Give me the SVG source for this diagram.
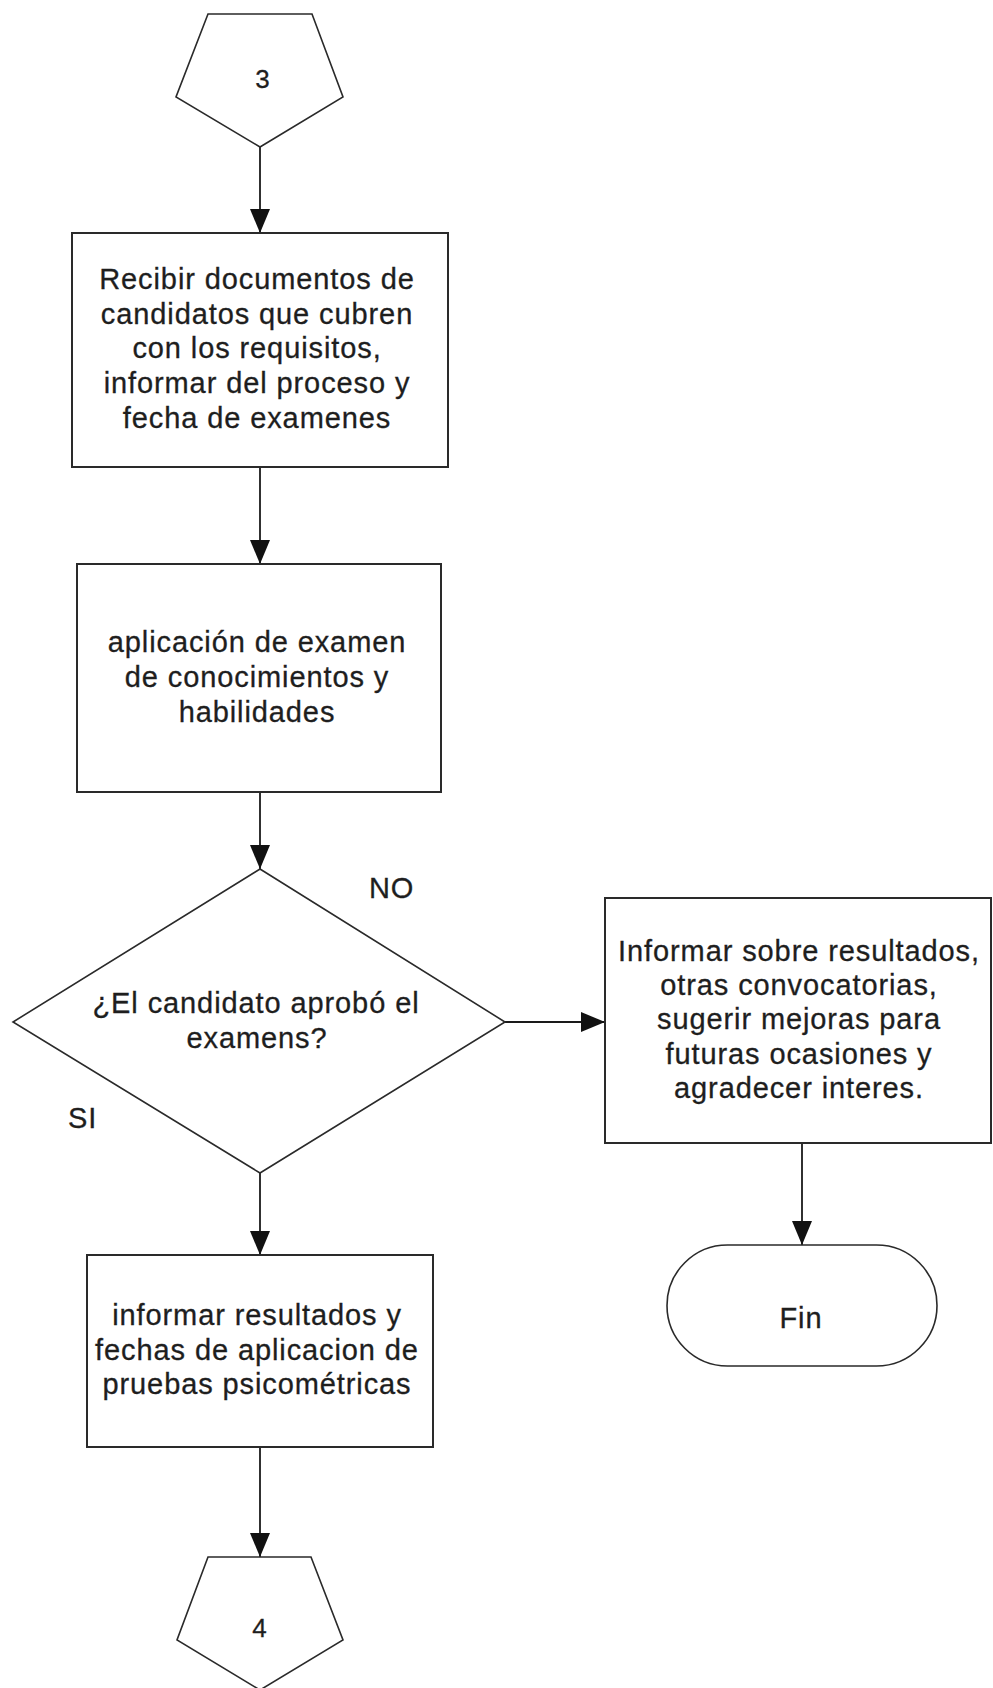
<svg xmlns="http://www.w3.org/2000/svg" width="993" height="1688" viewBox="0 0 993 1688">
  <style>
    .shape { fill: #ffffff; stroke: #2a2a2a; stroke-width: 2; }
    .thin { fill: #ffffff; stroke: #2a2a2a; stroke-width: 1.6; }
    .conn { fill: none; stroke: #1a1a1a; stroke-width: 1.8; }
    text { font-family: "Liberation Sans", Arial, sans-serif; font-size: 29px; fill: #1e1e1e; letter-spacing: 0.9px; stroke: #1e1e1e; stroke-width: 0.3px; }
    .c { text-anchor: middle; }
    .num { font-size: 26px; }
  </style>
  <defs>
    <marker id="arrow" markerUnits="userSpaceOnUse" markerWidth="24" markerHeight="20" refX="24" refY="10" orient="auto">
      <path d="M0,0 L24,10 L0,20 z" fill="#111111"/>
    </marker>
  </defs>
  <rect x="0" y="0" width="993" height="1688" fill="#ffffff"/>

  <g id="connectors">
    <line class="conn" x1="260" y1="147" x2="260" y2="233" marker-end="url(#arrow)"/>
    <line class="conn" x1="260" y1="467" x2="260" y2="564" marker-end="url(#arrow)"/>
    <line class="conn" x1="260" y1="792" x2="260" y2="869" marker-end="url(#arrow)"/>
    <line class="conn" x1="505" y1="1022" x2="605" y2="1022" marker-end="url(#arrow)"/>
    <line class="conn" x1="260" y1="1173" x2="260" y2="1255" marker-end="url(#arrow)"/>
    <line class="conn" x1="802" y1="1143" x2="802" y2="1245" marker-end="url(#arrow)"/>
    <line class="conn" x1="260" y1="1447" x2="260" y2="1557" marker-end="url(#arrow)"/>
  </g>

  <g id="conn3">
    <polygon class="thin" points="208,14 312,14 343,97 260,147 176,97"/>
    <text class="c num" x="263" y="88">3</text>
  </g>

  <g id="recibir">
    <rect class="shape" x="72" y="233" width="376" height="234"/>
    <text class="c" x="257" y="289">Recibir documentos de</text>
    <text class="c" x="257" y="324">candidatos que cubren</text>
    <text class="c" x="257" y="358">con los requisitos,</text>
    <text class="c" x="257" y="393">informar del proceso y</text>
    <text class="c" x="257" y="428">fecha de examenes</text>
  </g>

  <g id="aplicacion">
    <rect class="shape" x="77" y="564" width="364" height="228"/>
    <text class="c" x="257" y="652">aplicación de examen</text>
    <text class="c" x="257" y="687">de conocimientos y</text>
    <text class="c" x="257" y="722">habilidades</text>
  </g>

  <g id="decision">
    <polygon class="thin" points="260,869 505,1022 260,1173 13,1022"/>
    <text class="c" x="256" y="1013">¿El candidato aprobó el</text>
    <text class="c" x="257" y="1048">examens?</text>
  </g>

  <g id="label-no">
    <text x="369" y="898">NO</text>
  </g>
  <g id="label-si">
    <text x="68" y="1128">SI</text>
  </g>

  <g id="informar-no">
    <rect class="shape" x="605" y="898" width="386" height="245"/>
    <text class="c" x="799" y="961">Informar sobre resultados,</text>
    <text class="c" x="799" y="995">otras convocatorias,</text>
    <text class="c" x="799" y="1029">sugerir mejoras para</text>
    <text class="c" x="799" y="1064">futuras ocasiones y</text>
    <text class="c" x="799" y="1098">agradecer interes.</text>
  </g>

  <g id="fin">
    <rect class="thin" x="667" y="1245" width="270" height="121" rx="60.5" ry="60.5"/>
    <text class="c" x="801" y="1328">Fin</text>
  </g>

  <g id="informar-si">
    <rect class="shape" x="87" y="1255" width="346" height="192"/>
    <text class="c" x="257" y="1325">informar resultados y</text>
    <text class="c" x="257" y="1360">fechas de aplicacion de</text>
    <text class="c" x="257" y="1394">pruebas psicométricas</text>
  </g>

  <g id="conn4">
    <polygon class="thin" points="208,1557 311,1557 343,1640 260,1690 177,1640"/>
    <text class="c num" x="260" y="1637">4</text>
  </g>
</svg>
